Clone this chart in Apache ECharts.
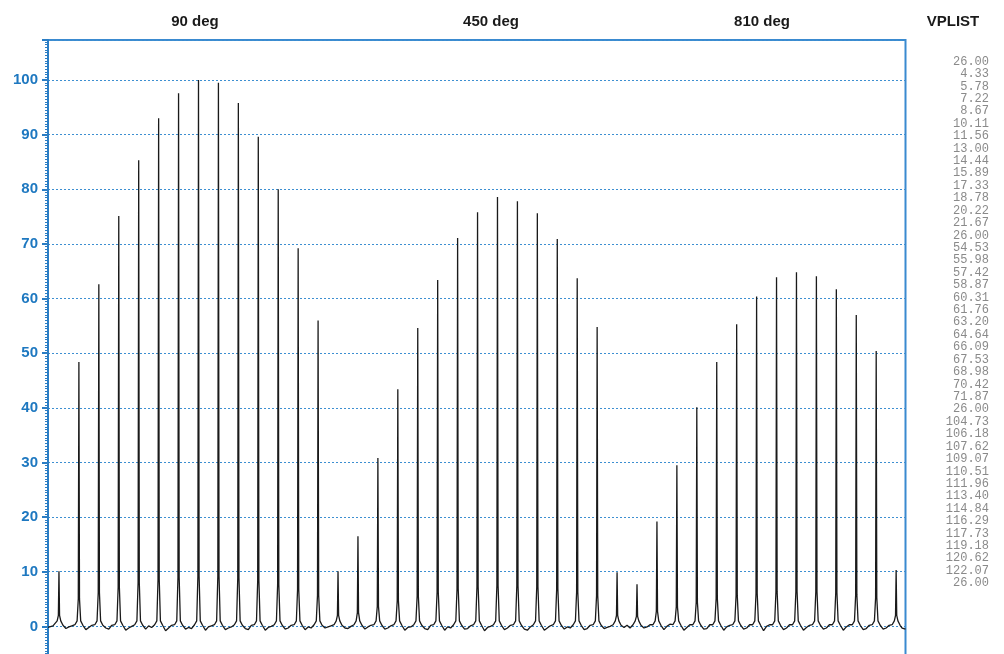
<!DOCTYPE html>
<html>
<head>
<meta charset="utf-8">
<script src="https://cdn.jsdelivr.net/npm/echarts@6/dist/echarts.min.js"></script>
<style>
html,body{margin:0;padding:0;background:#fff;overflow:hidden;}
#chart{width:1004px;height:681px;}
</style>
</head>
<body>
<div id="chart"></div>
<script>
// Peak heights (one per line of VPLIST)
const peakHeights = [10.1, 48.4, 62.6, 75.1, 85.3, 93.0, 97.6, 100.0, 99.5, 95.8, 89.6, 80.0, 69.2, 56.0, 10.1,
  16.5, 30.8, 43.4, 54.6, 63.4, 71.1, 75.8, 78.6, 77.8, 75.6, 70.9, 63.7, 54.8, 9.9,
  7.7, 19.2, 29.5, 40.1, 48.4, 55.3, 60.4, 63.9, 64.8, 64.1, 61.7, 57.0, 50.4, 10.3];

// Baseline wiggle between peaks (estimated)
const leadBaseline = [-0.2, 0.1];
const gapBaseline = [
  [-0.4,-0.1,0.1],[-0.6,-0.2,0.2],[-0.3,-0.5,0.2],[-0.7,-0.3,0.0],[-0.5,0.1,-0.2],[-0.8,-0.3,0.2],
  [-0.5,-0.2,-0.4],[-0.7,-0.1,0.1],[-0.6,-0.3,-0.1],[-0.4,-0.6,0.2],[-0.7,-0.2,0.0],[-0.5,-0.3,0.2],
  [-0.6,-0.1,-0.3],[-0.3,-0.1,0.1],[-0.3,-0.4,0.0],[-0.5,-0.1,0.2],[-0.5,-0.3,0.1],[-0.7,-0.2,-0.1],
  [-0.4,-0.6,0.2],[-0.7,-0.1,-0.3],[-0.5,-0.4,0.1],[-0.8,-0.2,0.0],[-0.6,-0.3,0.2],[-0.5,-0.7,-0.1],
  [-0.7,-0.3,0.1],[-0.5,-0.1,-0.3],[-0.6,-0.4,0.2],[-0.4,-0.2,0.0],[-0.2,0.2,-0.3],[-0.3,-0.1,0.3],
  [-0.6,0.0,0.4],[-0.7,-0.2,0.3],[-0.5,-0.4,0.3],[-0.7,-0.1,0.2],[-0.5,-0.3,0.3],[-0.8,0.0,0.3],
  [-0.6,-0.3,0.3],[-0.7,-0.2,0.2],[-0.5,-0.3,0.3],[-0.7,-0.1,0.3],[-0.6,-0.4,0.2],[-0.5,-0.3,0.2]
];
const tailBaseline = [-0.3, -0.5];

const vplist = ['26.00','4.33','5.78','7.22','8.67','10.11','11.56','13.00','14.44','15.89','17.33','18.78','20.22','21.67','26.00',
  '54.53','55.98','57.42','58.87','60.31','61.76','63.20','64.64','66.09','67.53','68.98','70.42','71.87','26.00',
  '104.73','106.18','107.62','109.07','110.51','111.96','113.40','114.84','116.29','117.73','119.18','120.62','122.07','26.00'];

const topLabels = ['90 deg', '450 deg', '810 deg', 'VPLIST'];
const yTicks = [0, 10, 20, 30, 40, 50, 60, 70, 80, 90, 100];

// Build the trace
const trace = [];
trace.push([-0.55, leadBaseline[0]]);
trace.push([-0.3, leadBaseline[1]]);
peakHeights.forEach((h, i) => {
  const inner = 1.2 + 0.08 * h;
  trace.push([i - 0.2, 0.3]);
  trace.push([i - 0.09, 1.0]);
  trace.push([i - 0.03, inner]);
  trace.push([i, h]);
  trace.push([i + 0.03, inner]);
  trace.push([i + 0.09, 1.0]);
  trace.push([i + 0.2, 0.2]);
  if (i < peakHeights.length - 1) {
    const g = gapBaseline[i];
    trace.push([i + 0.35, g[0]]);
    trace.push([i + 0.5, g[1]]);
    trace.push([i + 0.65, g[2]]);
  }
});
trace.push([peakHeights.length - 1 + 0.3, tailBaseline[0]]);
trace.push([42.47, tailBaseline[1]]);

const blue = '#2a7dc4';
const sans = '"Liberation Sans", Arial, Helvetica, sans-serif';
const topX = [195, 491, 762, 953];

const graphics = topLabels.map((t, i) => ({
  type: 'text', x: topX[i], y: 22,
  style: { text: t, fill: '#1a1a1a', font: 'bold 15px ' + sans, align: 'center', verticalAlign: 'middle' }
}));
vplist.forEach((t, i) => {
  graphics.push({
    type: 'text', x: 989, y: 61.5 + i * 12.42,
    style: { text: t, fill: '#8a8a8a', font: '12px "Liberation Mono", "Courier New", monospace', align: 'right', verticalAlign: 'middle' }
  });
});

const chart = echarts.init(document.getElementById('chart'), null, { renderer: 'canvas' });
chart.setOption({
  animation: false,
  backgroundColor: '#ffffff',
  grid: { left: 48, right: 98.5, top: 40, bottom: 0, show: true, borderColor: '#3a8ad0', borderWidth: 2, backgroundColor: 'transparent' },
  xAxis: { type: 'value', min: -0.55, max: 42.47, show: false },
  yAxis: {
    type: 'value', min: -10, max: 107.33, interval: 10,
    axisLine: { show: true, onZero: false, lineStyle: { color: blue, width: 2 } },
    axisTick: { show: true, length: 6, lineStyle: { color: blue, width: 2 } },
    minorTick: { show: true, splitNumber: 20, length: 3, lineStyle: { color: blue, width: 1 } },
    axisLabel: {
      color: '#1e78c0', fontWeight: 'bold', fontSize: 15, fontFamily: sans, margin: 10,
      showMaxLabel: false,
      formatter: v => (yTicks.indexOf(Math.round(v * 100) / 100) >= 0 ? String(v) : '')
    },
    splitLine: { show: true, lineStyle: { color: '#3d8fd1', type: [2, 2], width: 1 } }
  },
  series: [{
    type: 'line', data: trace, showSymbol: false, symbol: 'none', smooth: false,
    lineStyle: { color: '#1a1a1a', width: 1.3 }, z: 3
  }],
  graphic: graphics
});
</script>
</body>
</html>
